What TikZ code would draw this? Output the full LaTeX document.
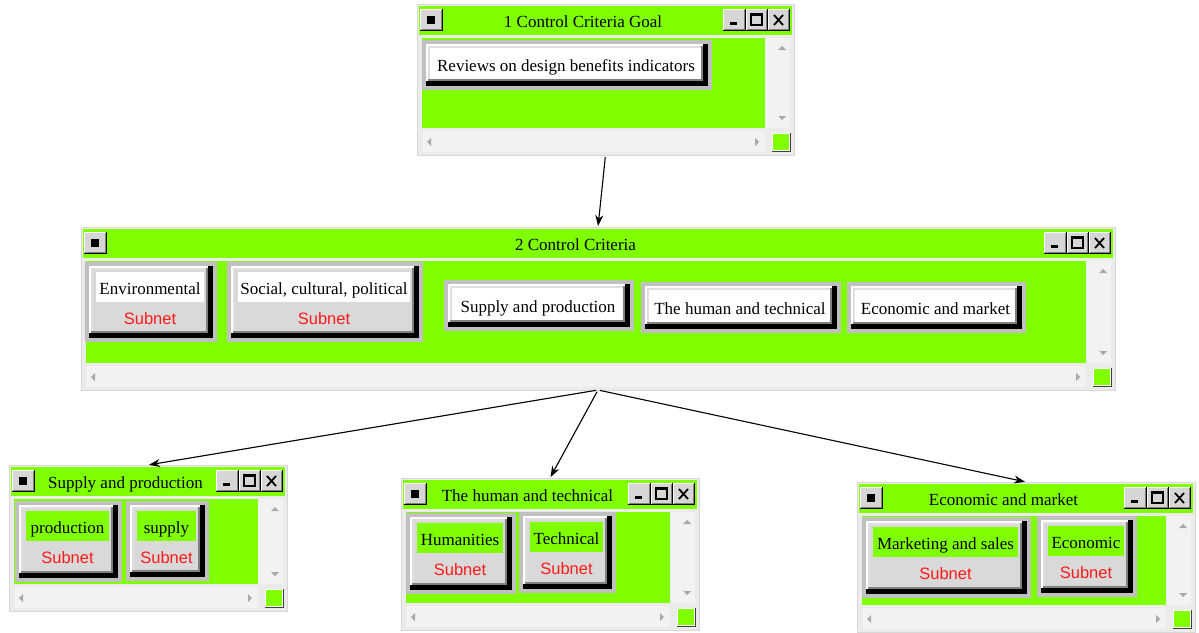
\documentclass[tikz,border=0pt]{standalone}
\usepackage{fontspec}
\setmainfont{Liberation Serif}
\newfontfamily\subfont{Liberation Sans}
\usetikzlibrary{arrows.meta}
\definecolor{gr}{HTML}{80FF00}
\definecolor{frm}{HTML}{C0C0C0}
\definecolor{face}{HTML}{D9D9D9}
\definecolor{winfr}{HTML}{EBEBEB}
\definecolor{winln}{HTML}{D8D8D8}
\definecolor{scr}{HTML}{F2F2F2}
\definecolor{arr}{HTML}{A8A8A8}
\definecolor{dkg}{HTML}{808080}
\definecolor{ltg}{HTML}{DFDFDF}
\definecolor{btnf}{HTML}{D6D6D6}
\definecolor{subred}{HTML}{FF1A1A}
\tikzset{
  winbox/.style={inner sep=0pt, outer sep=0pt, anchor=north west, fill=winfr, draw=winln, line width=0.6pt},
  ttl/.style={font=\fontsize{17}{20}\selectfont, inner sep=0pt, text height=11.3pt, text depth=0pt},
  ntext/.style={font=\fontsize{17}{20}\selectfont, inner sep=0pt, text height=11.3pt, text depth=0pt},
  subtxt/.style={font=\subfont\fontsize{16.5}{20}\selectfont, text=subred, inner sep=0pt, text height=11.8pt, text depth=0pt},
  conn/.style={-{Stealth[length=11pt,width=8pt]}, line width=1.1pt, shorten <=2pt, shorten >=1pt}
}
% title-bar button
\newcommand{\tbtn}[4]{%
  \pgfmathsetmacro{\tA}{#1}\pgfmathsetmacro{\tB}{#2}\pgfmathsetmacro{\tC}{#3}\pgfmathsetmacro{\tD}{#4}%
  \fill[black] (\tA,\tB) rectangle (\tC,\tD);
  \fill[white] (\tA,\tB) rectangle (\tC-1,\tD-1);
  \fill[dkg] (\tA+1,\tB+1) rectangle (\tC-1,\tD-1);
  \fill[btnf] (\tA+1,\tB+1) rectangle (\tC-2,\tD-2);
}
% 3D button body
\newcommand{\bevel}[5]{%
  \pgfmathsetmacro{\bA}{#1}\pgfmathsetmacro{\bB}{#2}\pgfmathsetmacro{\bC}{#3}\pgfmathsetmacro{\bD}{#4}%
  \fill[black] (\bA,\bB) rectangle (\bC,\bD);
  \fill[white] (\bA,\bB) rectangle (\bC-5,\bD-5);
  \fill[dkg] (\bA+2,\bB+2) rectangle (\bC-5,\bD-5);
  \fill[ltg] (\bA+2,\bB+2) rectangle (\bC-7,\bD-7);
  \fill[#5] (\bA+4,\bB+4) rectangle (\bC-7,\bD-7);
}
% window
\newcommand{\mywin}[6]{%
  \pgfmathsetmacro{\wL}{#2}\pgfmathsetmacro{\wT}{#3}\pgfmathsetmacro{\wR}{#4}\pgfmathsetmacro{\wB}{#5}%
  \node[winbox, minimum width={\wR-\wL}, minimum height={\wB-\wT}] (#1) at (\wL,\wT) {};
  \fill[gr] (\wL+2,\wT+2) rectangle (\wR-2,\wT+31);
  \fill[gr] (\wL+5,\wT+34) rectangle (\wR-29,\wB-27);
  \fill[scr] (\wR-28,\wT+34) rectangle (\wR-4,\wB-27);
  \fill[scr] (\wL+5,\wB-24) rectangle (\wR-29,\wB-3);
  \fill[black!75] (\wR-22,\wB-22) rectangle (\wR-3,\wB-3);
  \fill[white] (\wR-22,\wB-22) rectangle (\wR-4,\wB-4);
  \fill[gr] (\wR-21,\wB-21) rectangle (\wR-5,\wB-5);
  \fill[arr] (\wR-16,\wT+46) -- (\wR-8,\wT+46) -- (\wR-12,\wT+42) -- cycle;
  \fill[arr] (\wR-16,\wB-39) -- (\wR-8,\wB-39) -- (\wR-12,\wB-35) -- cycle;
  \fill[arr] (\wL+14,\wB-17) -- (\wL+14,\wB-9) -- (\wL+10,\wB-13) -- cycle;
  \fill[arr] (\wR-39,\wB-17) -- (\wR-39,\wB-9) -- (\wR-35,\wB-13) -- cycle;
  \tbtn{\wL+3}{\wT+5}{\wL+26}{\wT+27}
  \fill[black] (\wL+10,\wT+12) rectangle (\wL+18,\wT+20);
  \tbtn{\wR-71}{\wT+5}{\wR-48}{\wT+27}
  \fill[black] (\wR-64,\wT+18) rectangle (\wR-57,\wT+21);
  \tbtn{\wR-48}{\wT+5}{\wR-26}{\wT+27}
  \draw[black, line width=1.2pt] (\wR-43,\wT+10) rectangle (\wR-32,\wT+21);
  \fill[black] (\wR-43.6,\wT+9.4) rectangle (\wR-31.4,\wT+12);
  \tbtn{\wR-26}{\wT+5}{\wR-4}{\wT+27}
  \draw[black, line width=1.8pt] (\wR-20,\wT+11) -- (\wR-11,\wT+21) (\wR-20,\wT+21) -- (\wR-11,\wT+11);
  \node[ttl] (#1-title) at ({(\wL+\wR-45)/2},\wT+18) {#6};
}
% plain node
\newcommand{\plainnode}[6]{%
  \pgfmathsetmacro{\nA}{#2}\pgfmathsetmacro{\nB}{#3}\pgfmathsetmacro{\nC}{#4}\pgfmathsetmacro{\nD}{#5}%
  \fill[frm] (\nA,\nB) rectangle (\nC,\nD);
  \bevel{\nA+4}{\nB+4}{\nC-4}{\nD-4}{white}
  \node[ntext] (#1) at ({(\nA+\nC)/2-1},{(\nB+\nD)/2+1}) {#6};
}
% subnet node
\newcommand{\subnode}[7]{%
  \pgfmathsetmacro{\nA}{#2}\pgfmathsetmacro{\nB}{#3}\pgfmathsetmacro{\nC}{#4}\pgfmathsetmacro{\nD}{#5}%
  \fill[frm] (\nA,\nB) rectangle (\nC,\nD);
  \bevel{\nA+4}{\nB+4}{\nC-4}{\nD-4}{face}
  \fill[#6] (\nA+11,\nB+10) rectangle (\nC-13,\nB+40);
  \node[ntext] (#1) at ({(\nA+\nC)/2-1},\nB+27) {#7};
  \node[subtxt] (#1-sub) at ({(\nA+\nC)/2-1},\nB+57) {Subnet};
}
\begin{document}
\begin{tikzpicture}[x=1pt,y=-1pt]
\useasboundingbox (0,0) rectangle (1199,632);
\fill[white] (0,0) rectangle (1199,632);

% window 1
\mywin{w1}{417}{4}{794}{155}{1 Control Criteria Goal}
\plainnode{goal}{422}{40}{712}{90}{Reviews on design benefits indicators}

% window 2
\mywin{w2}{81}{227}{1115}{390}{2 Control Criteria}
\subnode{env}{85}{262}{217}{342}{white}{Environmental}
\subnode{soc}{227}{262}{423}{342}{white}{Social, cultural, political}
\plainnode{sup}{444}{280}{634}{331}{Supply and production}
\plainnode{hum}{641}{282}{841}{333}{The human and technical}
\plainnode{eco}{847}{282}{1026}{333}{Economic and market}

% window 3
\mywin{w3}{9}{465}{287}{611}{Supply and production}
\subnode{prod}{15}{501}{122}{582}{gr}{production}
\subnode{supp}{126}{501}{209}{581}{gr}{supply}

% window 4
\mywin{w4}{401}{478}{699}{630}{The human and technical}
\subnode{huma}{406}{513}{516}{594}{gr}{Humanities}
\subnode{tech}{519}{512}{616}{593}{gr}{Technical}

% window 5
\mywin{w5}{857}{482}{1195}{632}{Economic and market}
\subnode{mark}{862}{517}{1031}{598}{gr}{Marketing and sales}
\subnode{econ}{1037}{516}{1137}{597}{gr}{Economic}

% connectors
\draw[conn] (w1.south) -- (w2.north);
\draw[conn] (w2.south) -- (w3.north);
\draw[conn] (w2.south) -- (w4.north);
\draw[conn] (w2.south) -- (w5.north);
\end{tikzpicture}
\end{document}
